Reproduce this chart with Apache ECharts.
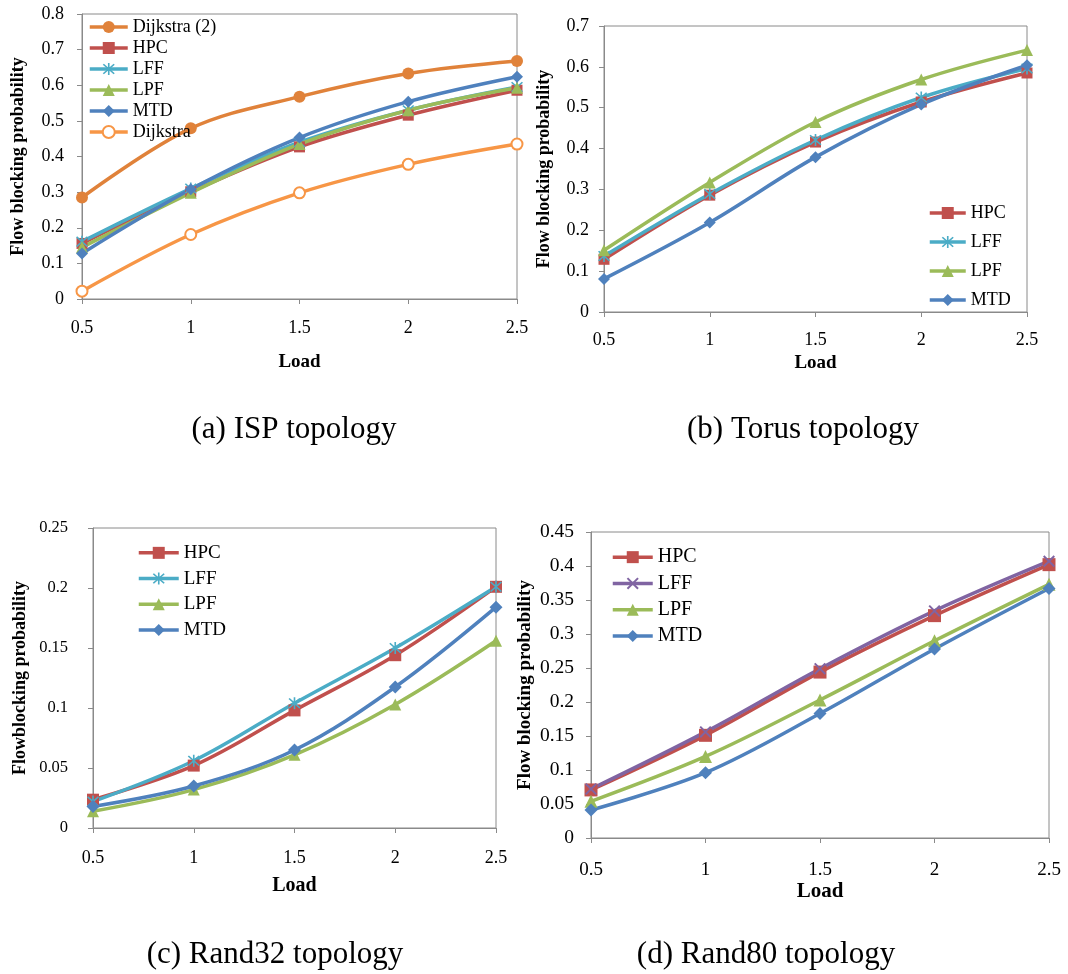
<!DOCTYPE html>
<html>
<head>
<meta charset="utf-8">
<script src="https://cdn.jsdelivr.net/npm/echarts@6/dist/echarts.min.js"></script>
<style>
  html, body { margin: 0; padding: 0; background: #fff; }
  #chart { width: 1068px; height: 974px; }
</style>
</head>
<body>
<div id="chart"></div>
<script>
// Load values shared by every panel
const loads = ['0.5', '1', '1.5', '2', '2.5'];

// (a) ISP topology
const ispDijkstra2 = [0.285, 0.479, 0.568, 0.633, 0.668];
const ispHPC       = [0.156, 0.301, 0.427, 0.516, 0.586];
const ispLFF       = [0.161, 0.310, 0.440, 0.530, 0.595];
const ispLPF       = [0.145, 0.298, 0.435, 0.530, 0.593];
const ispMTD       = [0.128, 0.308, 0.453, 0.554, 0.624];
const ispDijkstra  = [0.022, 0.181, 0.298, 0.378, 0.435];

// (b) Torus topology
const torusHPC = [0.129, 0.286, 0.416, 0.514, 0.585];
const torusLFF = [0.137, 0.289, 0.421, 0.525, 0.596];
const torusLPF = [0.151, 0.317, 0.465, 0.569, 0.641];
const torusMTD = [0.081, 0.219, 0.379, 0.508, 0.604];

// (c) Rand32 topology
const r32HPC = [0.0236, 0.052, 0.098, 0.144, 0.201];
const r32LFF = [0.022, 0.056, 0.104, 0.150, 0.201];
const r32LPF = [0.014, 0.032, 0.061, 0.103, 0.156];
const r32MTD = [0.018, 0.035, 0.065, 0.1175, 0.184];

// (d) Rand80 topology
const r80HPC = [0.0707, 0.151, 0.244, 0.327, 0.402];
const r80LFF = [0.072, 0.156, 0.249, 0.334, 0.407];
const r80LPF = [0.054, 0.120, 0.203, 0.290, 0.373];
const r80MTD = [0.041, 0.096, 0.183, 0.278, 0.367];

const captions = ['(a) ISP topology', '(b) Torus topology', '(c) Rand32 topology', '(d) Rand80 topology'];

const SERIF = '"Liberation Serif", "Times New Roman", serif';
const GRAY = '#8a8a8a';
const C = {
  dijkstra2: '#E0823A',
  dijkstra: '#F79646',
  hpc: '#C0504D',
  lff: '#4BACC6',
  lffPurple: '#8064A2',
  lpf: '#9BBB59',
  mtd: '#4F81BD'
};
const ASTERISK = 'path://M8.8,0L11.2,0L11.2,20L8.8,20Z M1.2,2.9L2.9,1.2L18.8,17.1L17.1,18.8Z M17.1,1.2L18.8,2.9L2.9,18.8L1.2,17.1Z';
const CROSS = 'path://M1,3.1L3.1,1L19,16.9L16.9,19Z M16.9,1L19,3.1L3.1,19L1,16.9Z';

// panel layout: grid box, axis styling, legend placement
const panels = [
  { grid: { left: 82, top: 14, width: 435, height: 285 }, yMax: 0.8, yStep: 0.1,
    yFont: 18, xFont: 18, yMargin: 18, xMargin: 20, loadFont: 19, loadGap: 54, nameFont: 18, nameGap: 55,
    yName: 'Flow blocking probability',
    legend: { left: 88, top: 16.5, itemWidth: 38, lineHeight: 21, fontSize: 18 } },
  { grid: { left: 604, top: 26, width: 423, height: 286 }, yMax: 0.7, yStep: 0.1,
    yFont: 18, xFont: 18, yMargin: 15, xMargin: 19, loadFont: 19, loadGap: 42, nameFont: 18, nameGap: 51,
    yName: 'Flow blocking probability',
    legend: { left: 928, top: 198.5, itemWidth: 36, lineHeight: 29, fontSize: 18 } },
  { grid: { left: 93, top: 528, width: 403, height: 300 }, yMax: 0.25, yStep: 0.05,
    yFont: 16.5, xFont: 18, yMargin: 25, xMargin: 21, loadFont: 20, loadGap: 48, nameFont: 18, nameGap: 64,
    yName: 'Flowblocking probability',
    legend: { left: 137, top: 540, itemWidth: 40, lineHeight: 25.7, fontSize: 19 } },
  { grid: { left: 591, top: 532, width: 458, height: 306 }, yMax: 0.45, yStep: 0.05,
    yFont: 19.5, xFont: 19, yMargin: 17, xMargin: 23, loadFont: 21, loadGap: 40, nameFont: 19, nameGap: 56,
    yName: 'Flow blocking probability',
    legend: { left: 611, top: 544, itemWidth: 40, lineHeight: 26.3, fontSize: 20 } }
];

// series per panel: [label, values, colour, symbol, size, hollow]
const panelSeries = [
  [
    ['Dijkstra (2)', ispDijkstra2, C.dijkstra2, 'circle', 12, false],
    ['HPC', ispHPC, C.hpc, 'rect', 11, false],
    ['LFF', ispLFF, C.lff, ASTERISK, 12, false],
    ['LPF', ispLPF, C.lpf, 'triangle', 12, false],
    ['MTD', ispMTD, C.mtd, 'diamond', 12, false],
    ['Dijkstra', ispDijkstra, C.dijkstra, 'emptyCircle', 11, true]
  ],
  [
    ['HPC', torusHPC, C.hpc, 'rect', 11, false],
    ['LFF', torusLFF, C.lff, ASTERISK, 12, false],
    ['LPF', torusLPF, C.lpf, 'triangle', 12, false],
    ['MTD', torusMTD, C.mtd, 'diamond', 12, false]
  ],
  [
    ['HPC', r32HPC, C.hpc, 'rect', 12, false],
    ['LFF', r32LFF, C.lff, ASTERISK, 12, false],
    ['LPF', r32LPF, C.lpf, 'triangle', 12, false],
    ['MTD', r32MTD, C.mtd, 'diamond', 13, false]
  ],
  [
    ['HPC', r80HPC, C.hpc, 'rect', 13, false],
    ['LFF', r80LFF, C.lffPurple, CROSS, 12, false],
    ['LPF', r80LPF, C.lpf, 'triangle', 13, false],
    ['MTD', r80MTD, C.mtd, 'diamond', 13, false]
  ]
];

const grids = [], xAxes = [], yAxes = [], legends = [], series = [];

panels.forEach((p, i) => {
  grids.push(Object.assign({ show: true, borderColor: GRAY, borderWidth: 1, backgroundColor: 'transparent' }, p.grid));

  xAxes.push({
    gridIndex: i, type: 'category', data: loads, boundaryGap: false,
    axisLine: { show: true, lineStyle: { color: GRAY, width: 1 } },
    axisTick: { show: true, length: 5, lineStyle: { color: GRAY } },
    axisLabel: { color: '#000', fontFamily: SERIF, fontSize: p.xFont, margin: p.xMargin },
    splitLine: { show: false },
    name: 'Load', nameLocation: 'middle', nameGap: p.loadGap,
    nameTextStyle: { color: '#000', fontFamily: SERIF, fontWeight: 'bold', fontSize: p.loadFont }
  });

  yAxes.push({
    gridIndex: i, type: 'value', min: 0, max: p.yMax, interval: p.yStep,
    axisLine: { show: true, lineStyle: { color: GRAY, width: 1 } },
    axisTick: { show: true, length: 5, lineStyle: { color: GRAY } },
    axisLabel: { color: '#000', fontFamily: SERIF, fontSize: p.yFont, margin: p.yMargin,
      formatter: v => String(+v.toFixed(2)) },
    splitLine: { show: false },
    name: p.yName, nameLocation: 'middle', nameGap: p.nameGap, nameRotate: 90,
    nameTextStyle: { color: '#000', fontFamily: SERIF, fontWeight: 'bold', fontSize: p.nameFont }
  });

  const tag = 'abcd'[i];
  const names = [];
  panelSeries[i].forEach(([label, values, color, symbol, size, hollow]) => {
    const id = tag + ':' + label;
    names.push(id);
    series.push({
      name: id, type: 'line', xAxisIndex: i, yAxisIndex: i, data: values,
      smooth: 0.35, symbol: symbol, symbolSize: size, showSymbol: true,
      lineStyle: { color: color, width: 3.5 },
      itemStyle: hollow
        ? { color: color, borderColor: color, borderWidth: 1.5 }
        : { color: color, borderColor: color, borderWidth: 0 },
      emphasis: { disabled: true }
    });
  });

  legends.push({
    data: names, orient: 'vertical', left: p.legend.left, top: p.legend.top,
    itemWidth: p.legend.itemWidth, itemHeight: 15, itemGap: 0, padding: 0,
    selectedMode: false,
    lineStyle: { width: 3.5 },
    formatter: n => n.slice(2),
    textStyle: { color: '#000', fontFamily: SERIF, fontSize: p.legend.fontSize, lineHeight: p.legend.lineHeight }
  });
});

// sub-figure captions
const captionPos = [[294, 429.5], [803, 429.5], [275, 954.5], [766, 954.5]];
const graphic = captions.map((t, i) => ({
  type: 'text', x: captionPos[i][0], y: captionPos[i][1], silent: true,
  style: { text: t, fill: '#000', font: '31px "Liberation Serif", serif', align: 'center', verticalAlign: 'middle' }
}));

const chart = echarts.init(document.getElementById('chart'), null, { renderer: 'canvas' });
chart.setOption({
  animation: false,
  backgroundColor: '#fff',
  grid: grids,
  xAxis: xAxes,
  yAxis: yAxes,
  legend: legends,
  series: series,
  graphic: graphic
});
</script>
</body>
</html>
